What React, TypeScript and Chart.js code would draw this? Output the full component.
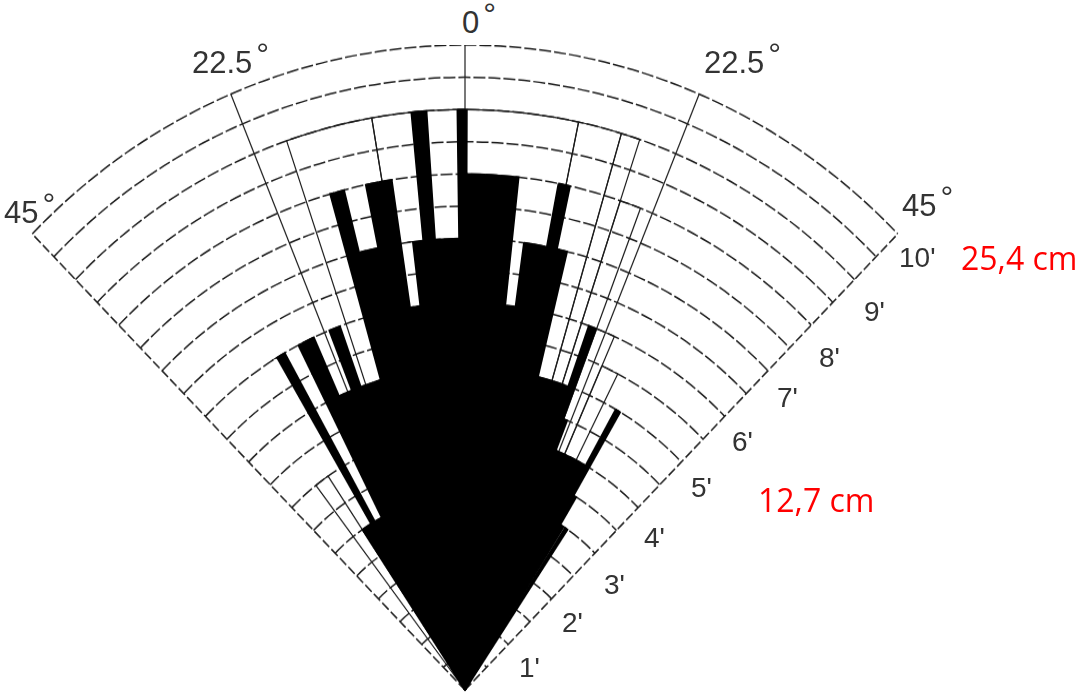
import React, { useEffect, useRef } from "react";
import { Chart, registerables } from "chart.js";

Chart.register(...registerables);

// ---- data -------------------------------------------------------------
// Filled (black) sectors, left (-45°) to right (+45°): angular width in degrees and length in feet
const blackSectorWidthDeg = [
  11, 3.2, 1.4, 2.4, 2.7, 2.6, 1.8, 3.9, 1.7, 2.6, 3.1, 1.6, 1.4, 1.6, 3.2, 1.0,
  6.1, 1.6, 3.1, 1.4, 1.4, 5.9, 1.2, 0.9, 7.7, 1.0, 0.8, 1.2, 0.5, 1.0, 11,
];
const blackSectorFeet = [
  0, 3, 6, 3, 6, 5, 6, 5, 8, 7, 8, 6, 7, 9, 7, 9,
  8, 6, 7, 8, 7, 5, 6, 4.5, 4, 5, 3.5, 3, 0, 3, 0,
];
// Outlined (unfilled) sectors
const outlineSectorWidthDeg = [7.5, 3.5, 15.1, 9.15, 21.65, 4.6, 2.0, 2.5, 3.0, 3.0, 18];
const outlineSectorFeet = [0, 4, 0, 9, 9, 9, 9, 8, 6, 5.5, 0];

const sectorLabels = blackSectorWidthDeg.map((_, i) => `S${i + 1}`);

const fanStartDeg = -45;
const fanEndDeg = 45;
const maxFeet = 10;
const ringStepFeet = 0.5;
const spokeAnglesDeg = [-45, -22.5, 0, 22.5, 45];

const angleLabels = ["45", "22.5", "0", "22.5", "45"];
const footLabels = ["1'", "2'", "3'", "4'", "5'", "6'", "7'", "8'", "9'", "10'"];
const cmLabels = ["25,4 cm", "12,7 cm"];

// ---- layout (positions of text, px) ------------------------------------
const angleLabelPos = [
  [4, 196],
  [192, 46],
  [462, 6],
  [704, 46],
  [902, 189],
];
const footLabelPos = [
  [519, 654],
  [562, 609],
  [604, 571],
  [644, 524],
  [691, 474],
  [732, 428],
  [777, 384],
  [819, 344],
  [864, 298],
  [899, 244],
];
const cmLabelPos = [
  [961, 242],
  [758, 484],
];

const CANVAS = 1224;

const fanGrid = {
  id: "fanGrid",
  beforeDatasetsDraw(chart: any) {
    const scale = chart.scales.r;
    const ctx = chart.ctx as CanvasRenderingContext2D;
    const cx = scale.xCenter;
    const cy = scale.yCenter;
    const toCanvas = (deg: number) => ((deg - 90) * Math.PI) / 180;
    ctx.save();
    ctx.strokeStyle = "#1e1e1e";
    ctx.lineWidth = 1.5;
    ctx.setLineDash([12, 3]);
    for (const t of scale.ticks) {
      if (t.value <= 0) continue;
      const rad = scale.getDistanceFromCenterForValue(t.value);
      ctx.beginPath();
      ctx.arc(cx, cy, rad, toCanvas(fanStartDeg), toCanvas(fanEndDeg));
      ctx.stroke();
    }
    const R = scale.getDistanceFromCenterForValue(maxFeet);
    for (const a of spokeAnglesDeg) {
      const edge = a === fanStartDeg || a === fanEndDeg;
      ctx.setLineDash(edge ? [9, 3] : []);
      ctx.lineWidth = edge ? 1.5 : 1.2;
      const t = (a * Math.PI) / 180;
      ctx.beginPath();
      ctx.moveTo(cx, cy);
      ctx.lineTo(cx + R * Math.sin(t), cy - R * Math.cos(t));
      ctx.stroke();
    }
    ctx.restore();
  },
};

export default function App() {
  const ref = useRef<HTMLCanvasElement | null>(null);

  useEffect(() => {
    if (!ref.current) return;
    const chart = new Chart(ref.current, {
      type: "polarArea",
      data: {
        labels: sectorLabels,
        datasets: [
          {
            data: blackSectorFeet,
            angle: blackSectorWidthDeg,
            backgroundColor: "#000000",
            borderColor: "#000000",
            borderWidth: (c: any) => (c.raw > 0 ? 1.6 : 0),
            borderJoinStyle: "miter",
          } as any,
          {
            data: outlineSectorFeet,
            angle: outlineSectorWidthDeg,
            backgroundColor: "rgba(0,0,0,0)",
            borderColor: "#1a1a1a",
            borderWidth: (c: any) => (c.raw > 0 ? 1.2 : 0),
          } as any,
        ],
      },
      options: {
        responsive: false,
        animation: false,
        events: [],
        layout: { padding: 0 },
        plugins: {
          legend: { display: false },
          tooltip: { enabled: false },
        },
        scales: {
          r: {
            min: 0,
            max: maxFeet,
            startAngle: fanStartDeg,
            ticks: { display: false, stepSize: ringStepFeet },
            grid: { display: false },
            angleLines: { display: false },
            pointLabels: { display: false },
          },
        },
      } as any,
      plugins: [fanGrid],
    });
    return () => chart.destroy();
  }, []);

  const black: React.CSSProperties = {
    position: "absolute",
    fontFamily: "'Liberation Sans', Arial, sans-serif",
    color: "#333",
    lineHeight: 1,
    whiteSpace: "nowrap",
  };

  return (
    <div
      style={{
        position: "fixed",
        left: 0,
        top: 0,
        width: 1082,
        height: 695,
        overflow: "hidden",
        background: "#ffffff",
      }}
    >
      <canvas
        ref={ref}
        width={CANVAS}
        height={CANVAS}
        style={{ position: "absolute", left: -147, top: 45, width: "1224px", height: "1290px" }}
      />
      {angleLabels.map((t, i) => (
        <span key={"a" + i} style={{ ...black, left: angleLabelPos[i][0], top: angleLabelPos[i][1], fontSize: 31 }}>
          {t}
          <span style={{ position: "relative", top: -8, fontSize: 32, marginLeft: 4 }}>°</span>
        </span>
      ))}
      {footLabels.map((t, i) => (
        <span key={"f" + i} style={{ ...black, left: footLabelPos[i][0], top: footLabelPos[i][1], fontSize: 28 }}>
          {t}
        </span>
      ))}
      {cmLabels.map((t, i) => (
        <span
          key={"c" + i}
          style={{
            position: "absolute",
            left: cmLabelPos[i][0],
            top: cmLabelPos[i][1],
            fontFamily: "'Open Sans', 'Liberation Sans', sans-serif",
            fontSize: 32,
            lineHeight: 1,
            color: "#ff0000",
            whiteSpace: "nowrap",
          }}
        >
          {t}
        </span>
      ))}
    </div>
  );
}
